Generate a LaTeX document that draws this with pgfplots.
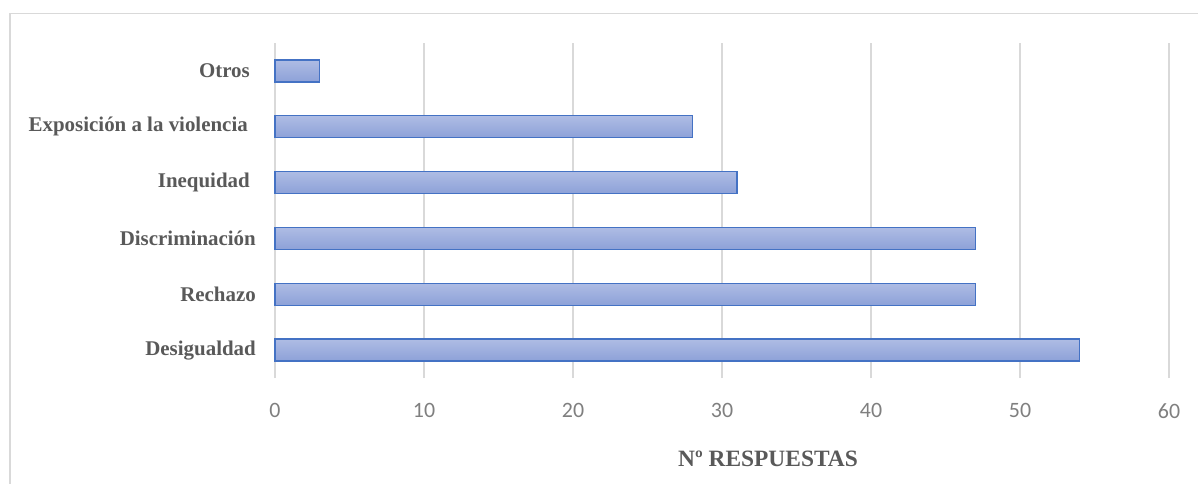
\documentclass[border=0pt]{standalone}
\usepackage{pgfplots}
\pgfplotsset{compat=1.18}
\usepackage{fontspec}
\setmainfont{Liberation Serif}
\newfontfamily\calibri{Carlito}

\definecolor{labelgray}{HTML}{595959}
\definecolor{tickgray}{HTML}{7F7F7F}
\definecolor{gridgray}{HTML}{D9D9D9}
\definecolor{barline}{HTML}{4472C4}
\definecolor{bartop}{HTML}{AEBCE4}
\definecolor{barbottom}{HTML}{8DA1D8}

% one plot per bar so that each bar carries its own vertical gradient
\tikzset{resbar/.style={xbar, bar width=22bp, bar shift=0pt,
    draw=barline, line width=1.3bp, top color=bartop, bottom color=barbottom}}

\begin{document}
\begin{tikzpicture}
\path[use as bounding box] (0bp,0bp) rectangle (1198bp,-484bp);
% chart frame
\draw[gridgray, line width=1.5bp] (10bp,-484bp) -- (10bp,-13.5bp) -- (1198bp,-13.5bp);
\begin{axis}[
  at={(275bp,-378bp)}, anchor=south west,
  scale only axis,
  width=894bp, height=335bp,
  xmin=0, xmax=60,
  ymin=-0.5, ymax=5.5,
  xtick={0,10,...,60},
  ytick={0,1,2,3,4,5},
  yticklabels={Desigualdad,Rechazo,Discriminación,Inequidad\kern6bp,Exposición a la violencia\kern8bp,Otros\kern6bp},
  axis lines*=left,
  x axis line style={draw=none},
  y axis line style={draw=none},
  major tick length=0pt,
  xmajorgrids,
  grid style={gridgray, line width=1.5bp},
  xticklabel style={font=\calibri\fontsize{22}{26}\selectfont, text=tickgray,
    anchor=north, inner sep=0pt, yshift=-25bp},
  yticklabel style={font=\bfseries\fontsize{21}{25}\selectfont, text=labelgray,
    anchor=east, inner sep=0pt, xshift=-19bp},
  /pgf/number format/assume math mode=true,
  clip=false,
]
\addplot[resbar] coordinates {(54,0)};
\addplot[resbar] coordinates {(47,1)};
\addplot[resbar] coordinates {(47,2)};
\addplot[resbar] coordinates {(31,3)};
\addplot[resbar] coordinates {(28,4)};
\addplot[resbar] coordinates {(3,5)};
\end{axis}
\node[font=\bfseries\fontsize{23.5}{28}\selectfont, text=labelgray] at (768bp,-459bp) {Nº RESPUESTAS};
\end{tikzpicture}
\end{document}
